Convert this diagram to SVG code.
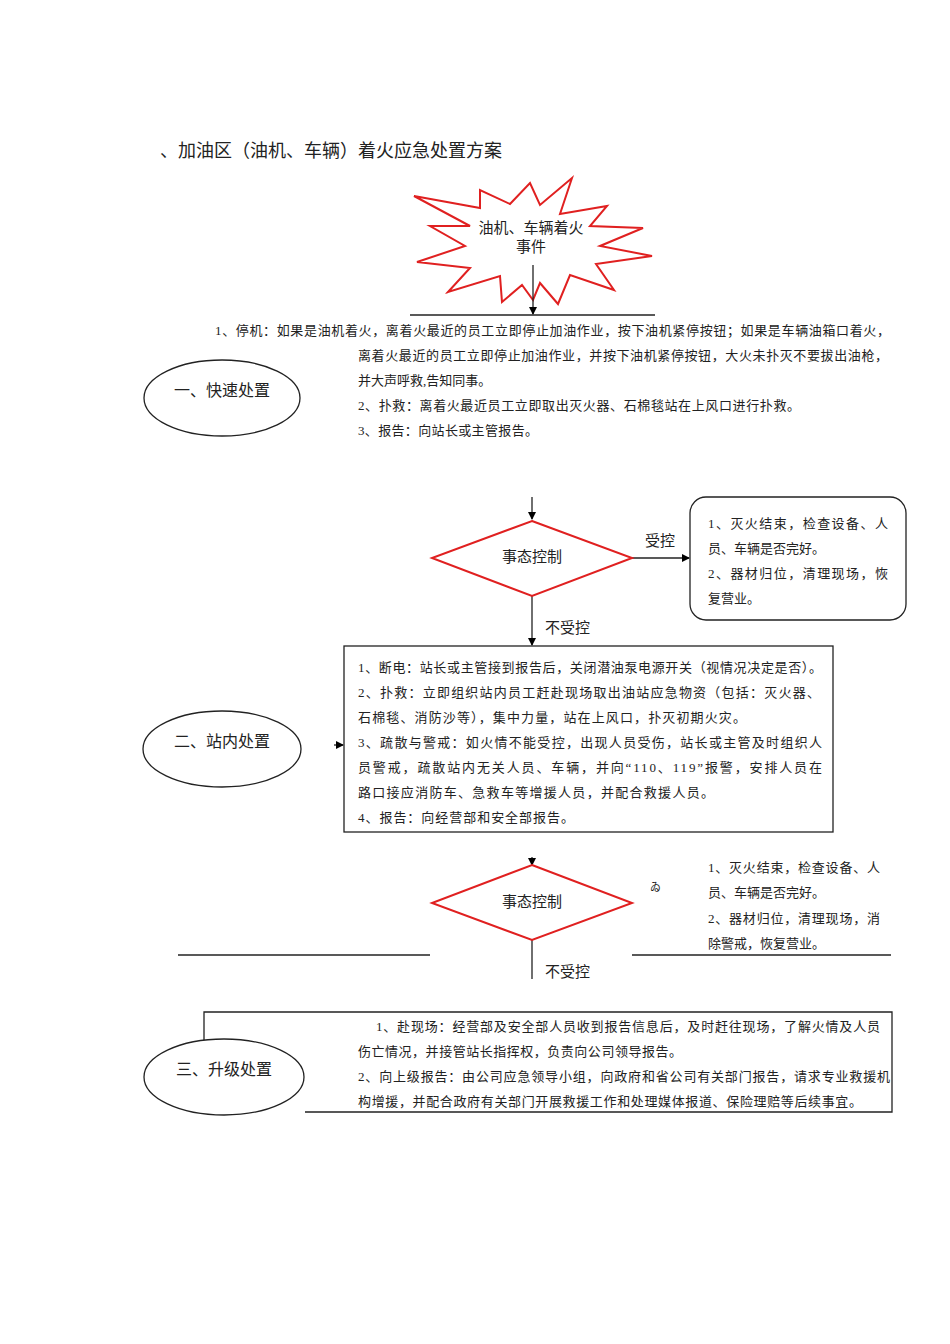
<svg xmlns="http://www.w3.org/2000/svg" width="950" height="1344" viewBox="0 0 950 1344">
<defs>
<marker id="ar" markerWidth="8" markerHeight="8" refX="7" refY="4" orient="auto" markerUnits="userSpaceOnUse"><path d="M0,0 L8,4 L0,8 Z" fill="#000"/></marker>
<style>
text{font-family:"Liberation Serif","Noto Sans CJK SC",serif;fill:#222}
.t{font-size:13px}
.e{font-size:16px}
.red{fill:#fff;stroke:#e02020;stroke-width:2}
.blk{fill:#fff;stroke:#222;stroke-width:1.3}
.ln{stroke:#222;stroke-width:1.3;fill:none}
</style>
</defs>
<rect width="950" height="1344" fill="#fff"/>
<text x="160" y="157" style="font-size:18px">、加油区（油机、车辆）着火应急处置方案</text>
<g id="star">
<polygon class="red" points="572,178 560,214 607,206 590,226 643,228 600,246 652,256 596,264 614,290 570,275 558,304 540,283 533,300 522,285 502,302 500,276 448,292 470,268 417,262 465,246 430,226 470,226 414,196 480,208 480,190 510,204 530,183 540,205"/>
<text x="531" y="233" text-anchor="middle" class="e" style="font-size:15px">油机、车辆着火</text>
<text x="531" y="252" text-anchor="middle" class="e" style="font-size:15px">事件</text>
</g>
<g id="connectors">
<line class="ln" x1="533" y1="265" x2="533" y2="314" marker-end="url(#ar)"/>
<line class="ln" x1="410" y1="315" x2="655" y2="315"/>
<line class="ln" x1="532" y1="497" x2="532" y2="519" marker-end="url(#ar)"/>
<line class="ln" x1="632" y1="558" x2="689" y2="558" marker-end="url(#ar)"/>
<line class="ln" x1="532" y1="596" x2="532" y2="645" marker-end="url(#ar)"/>
<line class="ln" x1="334" y1="745" x2="343" y2="745" marker-end="url(#ar)"/>
<line class="ln" x1="532" y1="857" x2="532" y2="865" marker-end="url(#ar)"/>
<line class="ln" x1="532" y1="940" x2="532" y2="979"/>
<line class="ln" x1="178" y1="955" x2="430" y2="955"/>
<line class="ln" x1="632" y1="955" x2="891" y2="955"/>
<polyline class="ln" points="204,1040 204,1012 892,1012 892,1112 305,1112"/>
</g>
<text x="215" y="335" class="t" textLength="675" lengthAdjust="spacing">1、停机：如果是油机着火，离着火最近的员工立即停止加油作业，按下油机紧停按钮；如果是车辆油箱口着火，</text>
<text x="358" y="360" class="t" textLength="530" lengthAdjust="spacing">离着火最近的员工立即停止加油作业，并按下油机紧停按钮，大火未扑灭不要拔出油枪，</text>
<text x="358" y="385" class="t">并大声呼救,告知同事。</text>
<text x="358" y="410" class="t" textLength="442" lengthAdjust="spacing">2、扑救：离着火最近员工立即取出灭火器、石棉毯站在上风口进行扑救。</text>
<text x="358" y="435" class="t" textLength="180" lengthAdjust="spacing">3、报告：向站长或主管报告。</text>
<g id="e1"><ellipse class="blk" cx="222" cy="398" rx="78" ry="38"/><text x="222" y="396" text-anchor="middle" class="e">一、快速处置</text></g>
<g id="d1"><polygon class="red" points="532,521 632,558 532,596 432,558"/><text x="532" y="562" text-anchor="middle" class="e" style="font-size:15px">事态控制</text></g>
<text x="645" y="546" class="e" style="font-size:15px">受控</text>
<g id="b1"><rect class="blk" x="690" y="497" width="216" height="123" rx="16"/>
<text x="708" y="528" class="t" textLength="180" lengthAdjust="spacing">1、灭火结束，检查设备、人</text>
<text x="708" y="553" class="t">员、车辆是否完好。</text>
<text x="708" y="578" class="t" textLength="180" lengthAdjust="spacing">2、器材归位，清理现场，恢</text>
<text x="708" y="603" class="t">复营业。</text></g>
<text x="545" y="633" class="e" style="font-size:15px">不受控</text>
<g id="b2"><rect class="blk" x="344" y="646" width="489" height="186"/>
<text x="358" y="672" class="t" textLength="464" lengthAdjust="spacing">1、断电：站长或主管接到报告后，关闭潜油泵电源开关（视情况决定是否）。</text>
<text x="358" y="697" class="t" textLength="462" lengthAdjust="spacing">2、扑救：立即组织站内员工赶赴现场取出油站应急物资（包括：灭火器、</text>
<text x="358" y="722" class="t" textLength="388" lengthAdjust="spacing">石棉毯、消防沙等），集中力量，站在上风口，扑灭初期火灾。</text>
<text x="358" y="747" class="t" textLength="464" lengthAdjust="spacing">3、疏散与警戒：如火情不能受控，出现人员受伤，站长或主管及时组织人</text>
<text x="358" y="772" class="t" textLength="464" lengthAdjust="spacing">员警戒，疏散站内无关人员、车辆，并向“110、119”报警，安排人员在</text>
<text x="358" y="797" class="t" textLength="356" lengthAdjust="spacing">路口接应消防车、急救车等增援人员，并配合救援人员。</text>
<text x="358" y="822" class="t" textLength="216" lengthAdjust="spacing">4、报告：向经营部和安全部报告。</text></g>
<g id="e2"><ellipse class="blk" cx="222" cy="749" rx="79" ry="38"/><text x="222" y="747" text-anchor="middle" class="e">二、站内处置</text></g>
<g id="d2"><polygon class="red" points="532,865 632,903 532,940 432,903"/><text x="532" y="907" text-anchor="middle" class="e" style="font-size:15px">事态控制</text></g>
<text x="650" y="891" style="font-size:11px">ゐ</text>
<text x="708" y="872" class="t" textLength="172" lengthAdjust="spacing">1、灭火结束，检查设备、人</text>
<text x="708" y="897" class="t">员、车辆是否完好。</text>
<text x="708" y="923" class="t" textLength="172" lengthAdjust="spacing">2、器材归位，清理现场，消</text>
<text x="708" y="948" class="t">除警戒，恢复营业。</text>
<text x="545" y="977" class="e" style="font-size:15px">不受控</text>
<text x="376" y="1031" class="t" textLength="504" lengthAdjust="spacing">1、赴现场：经营部及安全部人员收到报告信息后，及时赶往现场，了解火情及人员</text>
<text x="358" y="1056" class="t" textLength="324" lengthAdjust="spacing">伤亡情况，并接管站长指挥权，负责向公司领导报告。</text>
<text x="358" y="1081" class="t" textLength="532" lengthAdjust="spacing">2、向上级报告：由公司应急领导小组，向政府和省公司有关部门报告，请求专业救援机</text>
<text x="358" y="1106" class="t" textLength="504" lengthAdjust="spacing">构增援，并配合政府有关部门开展救援工作和处理媒体报道、保险理赔等后续事宜。</text>
<g id="e3"><ellipse class="blk" cx="224" cy="1077" rx="80" ry="38"/><text x="224" y="1075" text-anchor="middle" class="e">三、升级处置</text></g>
</svg>
